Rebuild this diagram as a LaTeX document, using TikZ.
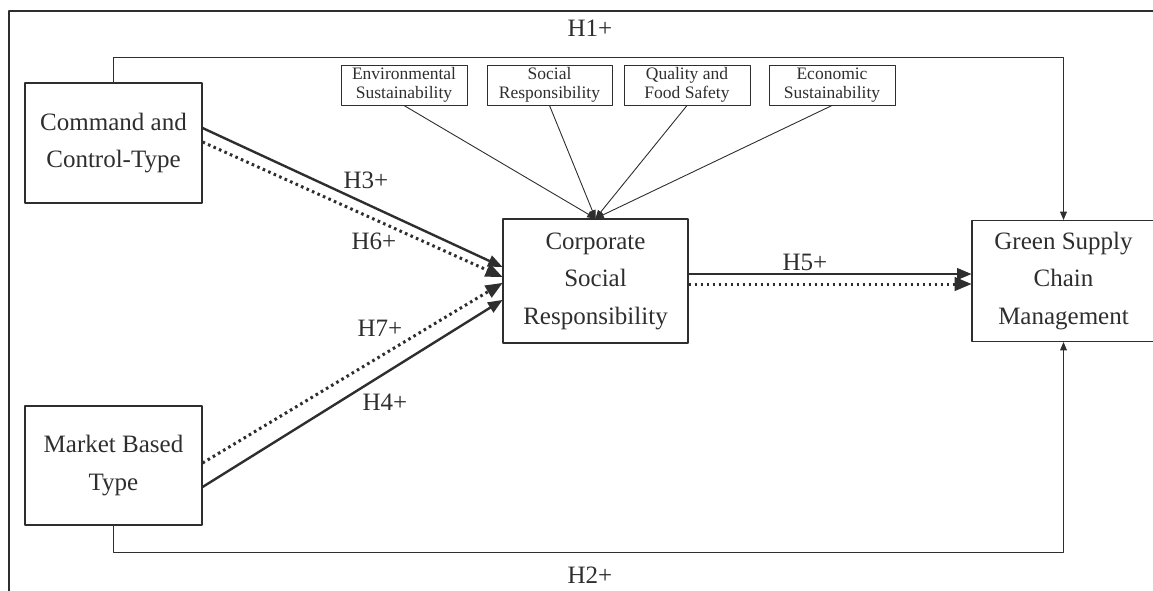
\documentclass[tikz,border=0pt]{standalone}
\usepackage{fontspec}
\setmainfont{Liberation Serif}
\usetikzlibrary{arrows}
\definecolor{ink}{gray}{0.18}

\tikzset{
	bigbox/.style={draw=ink,line width=1.1pt,inner sep=0pt,align=center,text=ink,font=\fontsize{25}{37.5}\selectfont},
	smallbox/.style={draw=ink,line width=1pt,inner sep=0pt,minimum width=126pt,minimum height=40pt,align=center,text=ink,font=\fontsize{17.5}{19}\selectfont},
	hlabel/.style={text=ink,font=\fontsize{25}{30}\selectfont},
	solidarrow/.style={->,draw=ink,line width=2.4pt},
	dotarrow/.style={->,draw=ink,line width=3pt,line cap=butt,dash pattern=on 2.6pt off 3.4pt},
	thinarrow/.style={->,draw=ink,line width=0.9pt}
}

\begin{document}
\begin{tikzpicture}[line cap=round,line join=round,>=triangle 45,x=1pt,y=-1pt]
	\useasboundingbox (0,0) rectangle (1153,590);
	\draw [line width=1.6pt,draw=ink] (9,592)-- (9,11)-- (1160,11);
	\node[bigbox,minimum width=177pt,minimum height=120pt] (cct) at (113.5,143) {Command and\\Control-Type};
	\node[bigbox,minimum width=177pt,minimum height=119pt] (mbt) at (113.5,465.5) {Market Based\\Type};
	\node[bigbox,minimum width=185pt,minimum height=124pt] (csr) at (595.5,281) {Corporate\\Social\\Responsibility};
	\node[bigbox,minimum width=183pt,minimum height=121pt] (gscm) at (1063.5,281) {Green Supply\\Chain\\Management};
	\node[smallbox] (env) at (404,85) {Environmental\\Sustainability};
	\node[smallbox,minimum width=125pt] (soc) at (549.5,85) {Social\\Responsibility};
	\node[smallbox] (qfs) at (687,85) {Quality and\\Food Safety};
	\node[smallbox] (eco) at (832,85) {Economic\\Sustainability};
	\draw[thinarrow] (env.south) -- (csr.north);
	\draw[thinarrow] (soc.south) -- (csr.north);
	\draw[thinarrow] (qfs.south) -- (csr.north);
	\draw[thinarrow] (eco.south) -- (csr.north);
	\draw[thinarrow] (cct.north) -- ++(0,-25) -| (gscm.north);
	\draw[thinarrow] (mbt.south) -- ++(0,27) -| (gscm.south);
	\draw[solidarrow] ([yshift=15pt]cct.east) -- ([yshift=14pt]csr.west);
	\draw[dotarrow] ([yshift=1pt]cct.east) -- ([yshift=4pt]csr.west);
	\draw[dotarrow] ([yshift=2.5pt]mbt.east) -- ([yshift=-2pt]csr.west);
	\draw[solidarrow] ([yshift=-21.5pt]mbt.east) -- ([yshift=-19pt]csr.west);
	\draw[solidarrow] ([yshift=7pt]csr.east) -- ([yshift=7pt]gscm.west);
	\draw[dotarrow] ([yshift=-3pt]csr.east) -- ([yshift=-3pt]gscm.west);
	\node[hlabel] (h1) at (590,28) {H1+};
	\node[hlabel] (h2) at (590,575) {H2+};
	\node[hlabel] (h3) at (366,180) {H3+};
	\node[hlabel] (h6) at (374,241) {H6+};
	\node[hlabel] (h7) at (380,328) {H7+};
	\node[hlabel] (h4) at (385,402) {H4+};
	\node[hlabel] (h5) at (805,262) {H5+};
\end{tikzpicture}
\end{document}
